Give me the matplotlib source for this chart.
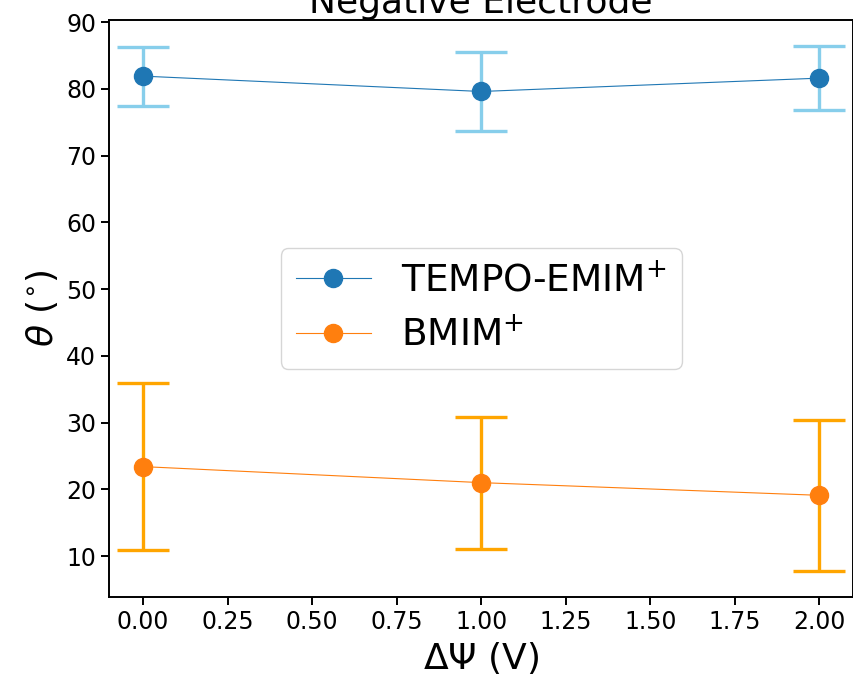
import matplotlib
matplotlib.use("Agg")
import matplotlib.pyplot as plt

x = [0.0, 1.0, 2.0]
tempo_vals = [81.9, 79.6, 81.6]
tempo_err = [4.4, 5.9, 4.8]
bmim_vals = [23.4, 21.0, 19.1]
bmim_err = [12.5, 9.9, 11.3]

fig = plt.figure(figsize=(8.54, 6.85), dpi=100)
ax = fig.add_axes([0.128, 0.1285, 0.871, 0.8425])

ax.errorbar(x, tempo_vals, yerr=tempo_err, fmt='none', ecolor='skyblue',
            elinewidth=2.4, capsize=19, capthick=2.4)
ax.errorbar(x, bmim_vals, yerr=bmim_err, fmt='none', ecolor='orange',
            elinewidth=2.4, capsize=19, capthick=2.4)
ax.plot(x, tempo_vals, 'o-', color='#1f77b4', linewidth=0.8, markersize=13,
        label='TEMPO-EMIM$^{+}$')
ax.plot(x, bmim_vals, 'o-', color='#ff7f0e', linewidth=0.8, markersize=13,
        label='BMIM$^{+}$')

ax.set_xticks([0.0, 0.25, 0.5, 0.75, 1.0, 1.25, 1.5, 1.75, 2.0])
ax.set_xticklabels(['0.00', '0.25', '0.50', '0.75', '1.00', '1.25', '1.50', '1.75', '2.00'])
ax.set_yticks([10, 20, 30, 40, 50, 60, 70, 80, 90])
ax.tick_params(labelsize=17, width=1.4, length=6)
for s in ax.spines.values():
    s.set_linewidth(1.4)

ax.set_xlabel(r'$\Delta\Psi$ (V)', fontsize=26)
ax.set_ylabel(r'$\theta$ ($^{\circ}$)', fontsize=26)
ax.set_title('Negative Electrode', fontsize=26, pad=5)

ax.legend(loc='center', fontsize=27)

fig.savefig('out.png', dpi=100)
